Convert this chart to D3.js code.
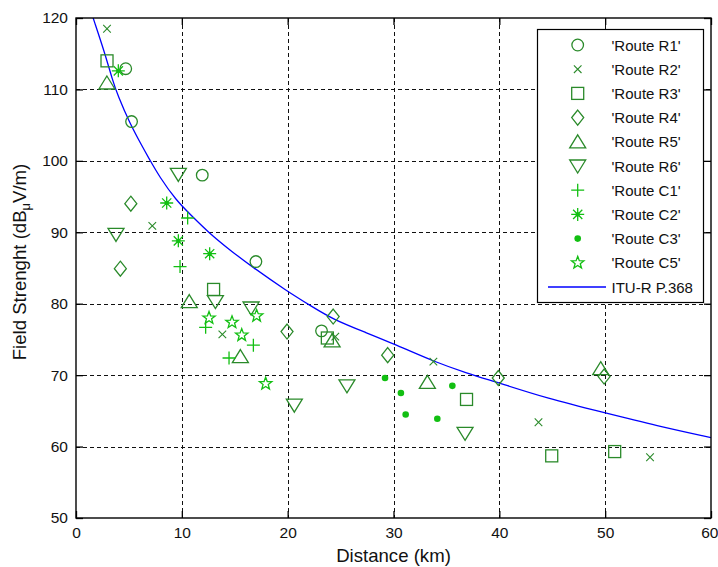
<!DOCTYPE html>
<html><head><meta charset="utf-8">
<script src="https://cdn.jsdelivr.net/npm/d3@7"></script>
<style>
body{margin:0;background:#fff;}
svg{display:block;font-family:"Liberation Sans",Arial,sans-serif;}
</style></head>
<body><svg id="chart" width="718" height="567"></svg>
<script>
// ---- data ----
const distanceTicks = [0, 10, 20, 30, 40, 50, 60];
const fieldTicks = [50, 60, 70, 80, 90, 100, 110, 120];

const routeR1 = [[4.7,112.9],[5.25,105.5],[11.93,98.0],[17.0,85.9],[23.2,76.2]];
const routeR2 = [[2.93,118.5],[7.21,90.9],[13.83,75.7],[24.5,75.4],[33.77,71.9],[43.7,63.4],[54.24,58.5]];
const routeR3 = [[2.93,114.0],[13.0,82.0],[23.75,75.2],[36.9,66.6],[44.95,58.7],[50.9,59.3]];
const routeR4 = [[5.18,94.0],[4.19,84.9],[19.94,76.1],[24.3,78.2],[29.45,72.8],[39.9,69.6],[49.9,69.8]];
const routeR5 = [[2.92,110.9],[10.7,80.3],[15.53,72.6],[24.2,74.8],[33.2,69.0],[49.58,70.9]];
const routeR6 = [[3.78,89.7],[9.67,98.1],[13.17,80.3],[16.54,79.4],[20.63,65.8],[25.6,68.5],[36.76,61.85]];
const routeC1 = [[10.55,92.0],[9.83,85.2],[12.25,76.7],[16.76,74.2],[14.46,72.4]];
const routeC2 = [[4.0,112.6],[8.57,94.1],[9.67,88.8],[12.63,87.0]];
const routeC3 = [[29.2,69.6],[30.7,67.5],[31.15,64.5],[34.14,63.9],[35.56,68.5]];
const routeC5 = [[17.07,78.3],[12.57,78.0],[14.74,77.4],[15.66,75.6],[17.92,68.8]];

const ituDistance = [1.4, 1.64, 2.68, 3.47, 3.94, 5.04, 6.3, 6.99, 7.87, 9.45, 10.87, 12.5, 14.55, 16.6, 19.9, 22.3, 24.3, 27.5, 30, 33.8, 36.9, 40, 44.5, 49.9, 54.9, 60];
const ituField    = [121.0, 119.9, 115.3, 111.2, 109.2, 105.4, 101.9, 100.1, 97.8, 94.5, 92.4, 90.0, 87.5, 85.2, 81.8, 79.6, 77.8, 75.9, 74.4, 71.9, 70.3, 68.9, 66.75, 64.75, 62.9, 61.25];

const seriesNames = ["'Route R1'","'Route R2'","'Route R3'","'Route R4'","'Route R5'","'Route R6'","'Route C1'","'Route C2'","'Route C3'","'Route C5'"];
const seriesData = [routeR1, routeR2, routeR3, routeR4, routeR5, routeR6, routeC1, routeC2, routeC3, routeC5];
const seriesMarkers = ["circle","x","square","diamond","triUp","triDown","plus","asterisk","dot","star"];
const lineName = "ITU-R P.368";

// ---- styles ----
const darkGreen = "#2a8a2a";
const brightGreen = "#12bf12";
const seriesColors = [darkGreen,darkGreen,darkGreen,darkGreen,darkGreen,darkGreen,brightGreen,brightGreen,brightGreen,brightGreen];

const svg = d3.select("#chart");
svg.append("rect").attr("width",718).attr("height",567).attr("fill","#fff");

const L = 76, R = 711, T = 18, B = 518;
const x = d3.scaleLinear().domain([0,60]).range([L,R]);
const y = d3.scaleLinear().domain([50,120]).range([B,T]);

// grid
const grid = svg.append("g").attr("stroke","#111").attr("stroke-width",1).attr("stroke-dasharray","4,3");
distanceTicks.filter(d=>d>0&&d<60).forEach(d=>{
  grid.append("line").attr("x1",Math.round(x(d))+0.5).attr("x2",Math.round(x(d))+0.5).attr("y1",T).attr("y2",B);
});
fieldTicks.filter(d=>d>50&&d<120).forEach(d=>{
  grid.append("line").attr("y1",Math.round(y(d))+0.5).attr("y2",Math.round(y(d))+0.5).attr("x1",L).attr("x2",R);
});

// clip
svg.append("clipPath").attr("id","clip").append("rect").attr("x",L).attr("y",T).attr("width",R-L).attr("height",B-T);

// ITU curve
const ituPts = ituDistance.map((d,i)=>[d,ituField[i]]);
svg.append("path").attr("clip-path","url(#clip)")
  .attr("d", d3.line().x(d=>x(d[0])).y(d=>y(d[1])).curve(d3.curveBasis)(ituPts))
  .attr("fill","none").attr("stroke","#0000ff").attr("stroke-width",1.3);

// marker drawing
function drawMarker(g, type, color){
  const s = {stroke:color, fill:"none", "stroke-width":1.3};
  const ap = (el)=>{ Object.entries(s).forEach(([k,v])=>el.attr(k,v)); return el; };
  switch(type){
    case "circle": ap(g.append("circle").attr("r",5.8)); break;
    case "x": ap(g.append("path").attr("d","M-3.8,-3.8L3.8,3.8M-3.8,3.8L3.8,-3.8")).attr("stroke-width",1.1); break;
    case "square": ap(g.append("rect").attr("x",-6).attr("y",-6).attr("width",12).attr("height",12)); break;
    case "diamond": ap(g.append("path").attr("d","M0,-7.5L6,0L0,7.5L-6,0Z")); break;
    case "triUp": ap(g.append("path").attr("d","M0,-7L8,6L-8,6Z")); break;
    case "triDown": ap(g.append("path").attr("d","M0,7L8,-6L-8,-6Z")); break;
    case "plus": ap(g.append("path").attr("d","M-6.5,0L6.5,0M0,-6.5L0,6.5")); break;
    case "asterisk":
      ap(g.append("path").attr("d","M-6.5,0L6.5,0M0,-6.5L0,6.5M-4.6,-4.6L4.6,4.6M-4.6,4.6L4.6,-4.6"));
      g.append("circle").attr("r",2.2).attr("fill",color); break;
    case "dot": g.append("circle").attr("r",3.3).attr("fill",color); break;
    case "star": {
      const pts=[];
      for(let i=0;i<10;i++){
        const r = i%2===0 ? 6.5 : 2.7;
        const a = -Math.PI/2 + i*Math.PI/5;
        pts.push([r*Math.cos(a), r*Math.sin(a)]);
      }
      ap(g.append("path").attr("d","M"+pts.map(p=>p[0].toFixed(2)+","+p[1].toFixed(2)).join("L")+"Z"));
      break;
    }
  }
}

// points
seriesData.forEach((data,si)=>{
  const g = svg.append("g").attr("clip-path","url(#clip)");
  data.forEach(d=>{
    const m = g.append("g").attr("transform",`translate(${x(d[0])},${y(d[1])})`);
    drawMarker(m, seriesMarkers[si], seriesColors[si]);
  });
});

// axes
const tickFont = "15.5px";
const axB = svg.append("g").attr("transform",`translate(0,${B})`)
  .call(d3.axisBottom(x).tickValues(distanceTicks).tickSize(-7).tickPadding(9).tickFormat(d3.format("d")));
const axL = svg.append("g").attr("transform",`translate(${L},0)`)
  .call(d3.axisLeft(y).tickValues(fieldTicks).tickSize(-7).tickPadding(8).tickFormat(d3.format("d")));
const axT = svg.append("g").attr("transform",`translate(0,${T})`)
  .call(d3.axisTop(x).tickValues(distanceTicks).tickSize(-7).tickFormat(""));
const axR = svg.append("g").attr("transform",`translate(${R},0)`)
  .call(d3.axisRight(y).tickValues(fieldTicks).tickSize(-7).tickFormat(""));
[axB,axL,axT,axR].forEach(a=>{
  a.select(".domain").remove();
  a.selectAll("line").attr("stroke","#000").attr("stroke-width",1.3);
  a.selectAll("text").attr("font-size",tickFont).attr("font-family","Liberation Sans, Arial, sans-serif").attr("fill","#111");
});
// keep the last x tick label inside the page
axB.selectAll(".tick text").filter(d=>d===60).attr("text-anchor","end").attr("x",7);
svg.append("rect").attr("x",L).attr("y",T).attr("width",R-L).attr("height",B-T)
  .attr("fill","none").attr("stroke","#000").attr("stroke-width",1.4);

// axis labels
svg.append("text").attr("x",(L+R)/2).attr("y",562).attr("text-anchor","middle")
  .attr("font-size","18.6px").attr("fill","#111").text("Distance (km)");
const yl = svg.append("text").attr("transform","translate(26,262) rotate(-90)").attr("text-anchor","middle")
  .attr("font-size","18.6px").attr("fill","#111");
yl.append("tspan").text("Field Strenght (dB");
yl.append("tspan").attr("dy",4).attr("font-size","13px").text("\u03bc");
yl.append("tspan").attr("dy",-4).text("V/m)");

// legend
const lg = svg.append("g");
lg.append("rect").attr("x",537.5).attr("y",29.5).attr("width",166).attr("height",273)
  .attr("fill","#fff").attr("stroke","#000").attr("stroke-width",1.2);
const rowY = i => 45 + i*24.2;
seriesNames.forEach((n,i)=>{
  const m = lg.append("g").attr("transform",`translate(577.7,${rowY(i)})`);
  drawMarker(m, seriesMarkers[i], seriesColors[i]);
  lg.append("text").attr("x",611.5).attr("y",rowY(i)+5.5).attr("font-size","15px").attr("fill","#111").text(n);
});
lg.append("line").attr("x1",548).attr("x2",606).attr("y1",rowY(10)).attr("y2",rowY(10))
  .attr("stroke","#0000ff").attr("stroke-width",1.3);
lg.append("text").attr("x",611.5).attr("y",rowY(10)+5.5).attr("font-size","15px").attr("fill","#111").text(lineName);
</script></body></html>
